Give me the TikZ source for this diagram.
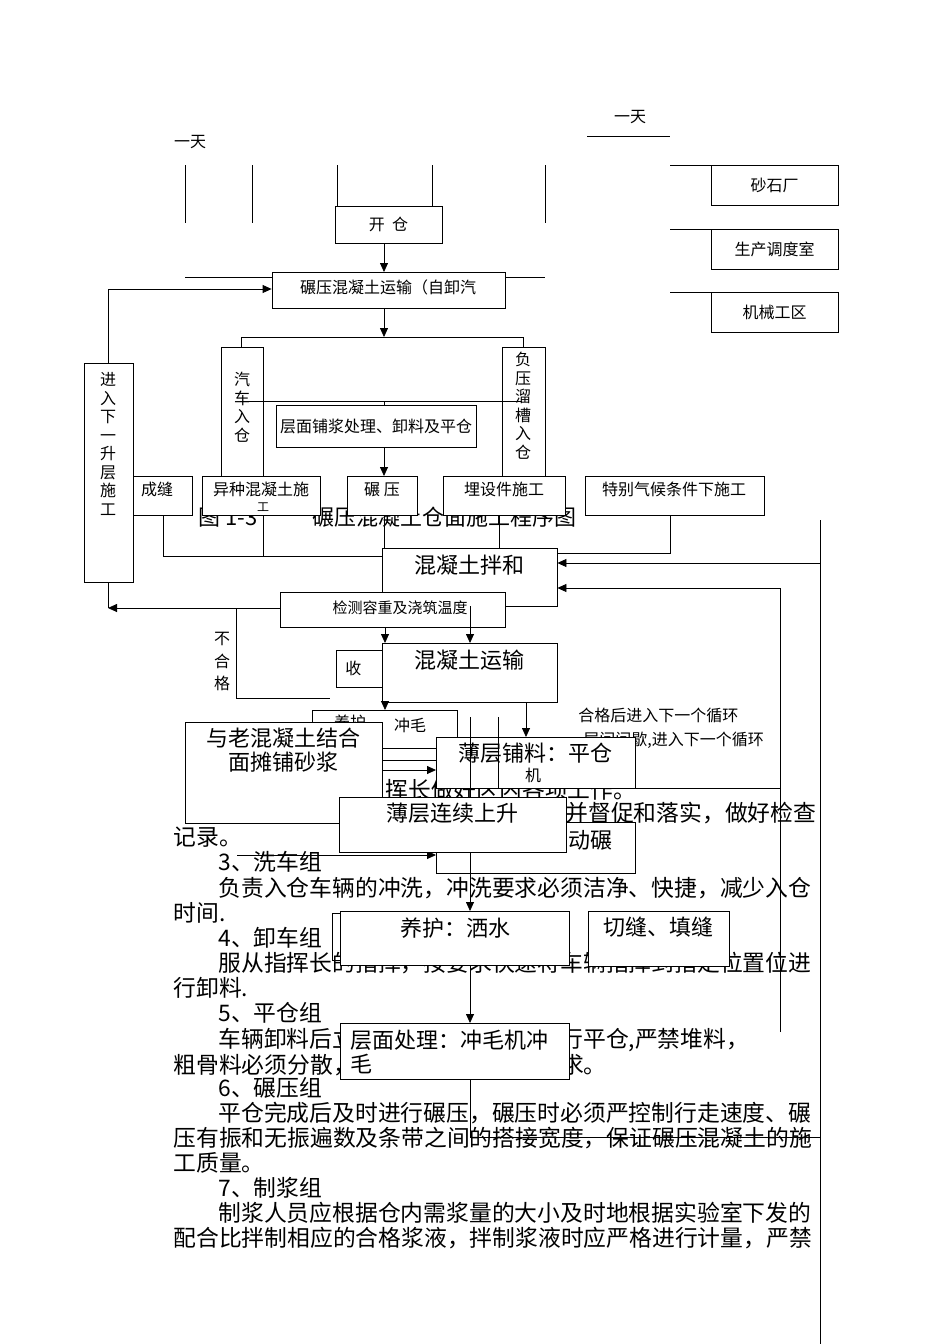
\documentclass[tikz,border=0pt]{standalone}
\usepackage{fontspec}
\setmainfont{Noto Sans CJK SC}
\usetikzlibrary{fit,arrows.meta}
\begin{document}
\begin{tikzpicture}[x=1pt,y=-1pt,line width=0.8pt,
  bx/.style={draw,fill=white,inner sep=0pt},
  sm/.style={font=\fontsize{16}{18}\selectfont,inner sep=0pt},
  bg/.style={font=\fontsize{22}{24}\selectfont,inner sep=0pt},
  bd/.style={font=\fontsize{22.8}{25}\selectfont,inner sep=0pt,anchor=west},
  vt/.style={font=\fontsize{16}{18.5}\selectfont,inner sep=0pt,text width=16pt,align=center},
  ar/.style={-{Triangle[length=9pt,width=8pt]}}]
\useasboundingbox[fill=white] (0,0) rectangle (950,1344);
% ---- body text
\node[bd] (t0) at (385,790) {挥长做好区内各项工作。};
\node[bd] (t1) at (565,813) {并督促和落实，做好检查};
\node[bd] (t2) at (173,837) {记录。};
\node[bd] (t3) at (218,862) {3、洗车组};
\node[bd] (t4) at (218,888) {负责入仓车辆的冲洗，冲洗要求必须洁净、快捷，减少入仓};
\node[bd] (t5) at (173,913) {时间.};
\node[bd] (t6) at (218,938) {4、卸车组};
\node[bd] (t7) at (218,963) {服从指挥长的指挥，按要求快速将车辆指挥到指定位置位进};
\node[bd] (t8) at (173,988) {行卸料.};
\node[bd] (t9) at (218,1013) {5、平仓组};
\node[bd] (t10) at (218,1040) {车辆卸料后立即用平仓机或人工进行平仓,严禁堆料，};
\node[bd] (t11) at (173,1065) {粗骨料必须分散，以满足施工规范的要求。};
\node[bd] (t12) at (218,1088) {6、碾压组};
\node[bd] (t13) at (218,1113) {平仓完成后及时进行碾压，碾压时必须严控制行走速度、碾};
\node[bd] (t14) at (173,1138) {压有振和无振遍数及条带之间的搭接宽度，保证碾压混凝土的施};
\node[bd] (t15) at (173,1163) {工质量。};
\node[bd] (t16) at (218,1188) {7、制浆组};
\node[bd] (t17) at (218,1213) {制浆人员应根据仓内需浆量的大小及时地根据实验室下发的};
\node[bd] (t18) at (173,1238) {配合比拌制相应的合格浆液，拌制浆液时应严格进行计量，严禁};
% ---- caption
\node[bg,anchor=west] (cap) at (198,517) {图 1-3\hspace{2.5em}碾压混凝土仓面施工程序图};
% ---- top
\node[sm] (d1) at (190,142) {一天};
\node[sm] (d2) at (630,117) {一天};
\draw (587,136) -- (670,136);
\foreach \x in {185,252,545} \draw (\x,165) -- (\x,223);
\draw (337,165) -- (337,206); \draw (432,165) -- (432,206);
\draw (185,277) -- (545,277);
\node[bx,fit={(335,206) (442,243)}] (kc) {};
\node[sm] at (kc) {开\ \ 仓};
\node[bx,fit={(272,272) (505,308)}] (ys) {};
\node[sm,anchor=north] at (388,279) {碾压混凝土运输（自卸汽};
\draw[ar] (384,243) -- (384,272);
% right boxes
\foreach \y/\t/\n in {165/砂石厂/r1,229/生产调度室/r2,292/机械工区/r3}{
  \node[bx,fit={(711,\y) (838,\y+40)}] (\n) {};
  \node[sm] at (\n) {\t};
  \draw (670,\y) -- (711,\y);}
% split
\draw[ar] (384,308) -- (384,337);
\draw (241,337) -- (523,337);
\draw (241,337) -- (241,347); \draw (523,337) -- (523,347);
\node[bx,fit={(221,347) (263,476)}] (qc) {};
\node[vt,anchor=north] at (242,372) {汽\\车\\入\\仓};
\node[bx,fit={(502,347) (545,476)}] (fy) {};
\node[vt,anchor=north] at (523,352) {负\\压\\溜\\槽\\入\\仓};
\draw (240,401) -- (522,401); \draw (384,401) -- (384,405);
\node[bx,fit={(276,405) (476,447)}] (pj) {};
\node[sm] at (pj) {层面铺浆处理、卸料及平仓};
% left loop box
\node[bx,fit={(84,363) (133,582)}] (jr) {};
\node[vt,anchor=north] at (108,372) {进\\入\\下\\一\\升\\层\\施\\工};
\draw[ar] (108,363) -- (108,289) -- (ys.west |- 0,289);
% row
\node[bx,fit={(133,476) (192,515)}] (cf) {};
\node[sm,anchor=north] at (157,482) {成缝};
\node[bx,fit={(202,476) (320,515)}] (yz) {};
\node[sm,anchor=north] at (261,482) {异种混凝土施};
\node[font=\fontsize{12}{12}\selectfont,inner sep=0pt] at (263,507) {工};
\node[bx,fit={(347,476) (417,515)}] (ny) {};
\node[sm,anchor=north] at (382,482) {碾\ 压};
\node[bx,fit={(443,476) (565,515)}] (ms) {};
\node[sm,anchor=north] at (504,482) {埋设件施工};
\node[bx,fit={(585,476) (764,515)}] (tb) {};
\node[sm,anchor=north] at (674,482) {特别气候条件下施工};
\draw[ar] (384,447) -- (384,476);
% lines to mixing
\draw (163,515) -- (163,556) -- (382,556);
\draw (263,515) -- (263,556);
\draw (384,515) -- (384,548);
\draw (499,515) -- (499,548);
\draw (670,515) -- (670,553) -- (557,553);
\node[bx,fit={(382,548) (557,606)}] (bh) {};
\node[bg,anchor=north] at (469,555) {混凝土拌和};
% right long lines
\draw (820,520) -- (820,1344);
\draw[ar] (820,563) -- (bh.east |- 0,563);
\draw[ar] (780,1032) -- (780,588) -- (bh.east |- 0,588);
\draw (635,788) -- (780,788);
% check
\draw[ar] (280,608) -- (108,608);
\draw (108,582) -- (108,608);
\node[bx,fit={(280,592) (505,627)}] (jc) {};
\node[font=\fontsize{15}{17}\selectfont,inner sep=0pt] at (400,608) {检测容重及浇筑温度};
\draw (236,608) -- (236,698) -- (330,698);
\node[vt,anchor=north] at (222,632) {不\\[4pt]合\\[4pt]格};
\node[bx,fit={(336,650) (382,687)}] (sh) {};
\node[sm,anchor=west] at (345,668) {收};
\draw[ar] (385,627) -- (385,643);
\draw[ar] (470,606) -- (470,643);
\node[bx,fit={(382,643) (557,702)}] (ysh) {};
\node[bg,anchor=north] at (469,650) {混凝土运输};
\draw[ar] (385,702) -- (385,710);
% lower part
\node[bx,fit={(312,710) (457,760)}] (ch) {};
\node[sm] at (410,725) {冲毛};
\node[sm] at (350,722) {养护};
\node[font=\fontsize{16}{18}\selectfont,inner sep=0pt,anchor=west] at (578,715) {合格后进入下一个循环};
\node[font=\fontsize{16}{18}\selectfont,inner sep=0pt,anchor=west] at (583,740) {层间间歇,进入下一个循环};
\node[bx,fit={(185,722) (382,823)}] (ylh) {};
\node[bg,align=center,anchor=north] at (283,728) {与老混凝土结合\\面摊铺砂浆};
\draw (382,748) -- (436,748);
\draw[ar] (382,770) -- (436,770);
\node[bx,fit={(436,737) (635,788)}] (bc) {};
\node[bg,anchor=north] at (535,743) {薄层铺料：平仓};
\node[sm] at (533,775) {机};
\draw[ar] (526,702) -- (526,737);
\draw (498,717) -- (498,788);
\node[bx,fit={(436,822) (635,873)}] (dn) {};
\node[bg] at (590,840) {动碾};
\draw[ar] (237,855) -- (436,855);
\node[bx,fit={(339,797) (566,852)}] (sl) {};
\node[bg,anchor=north] at (452,803) {薄层连续上升};
\draw (470,717) -- (470,797);
\draw[ar] (470,852) -- (470,911);
\draw (332,913) rectangle (562,960);
\node[bx,fit={(340,911) (569,965)}] (yh) {};
\node[bg,anchor=north] at (455,917) {养护：洒水};
\node[bx,fit={(588,911) (729,966)}] (qf) {};
\node[bg,anchor=north] at (658,917) {切缝、填缝};
\draw[ar] (470,965) -- (470,1023);
\node[bx,fit={(340,1023) (569,1079)}] (cm) {};
\node[bg,anchor=north west,align=left] at (350,1030) {层面处理：冲毛机冲\\毛};
\draw (470,1079) -- (470,1137) -- (820,1137);
\end{tikzpicture}
\end{document}
